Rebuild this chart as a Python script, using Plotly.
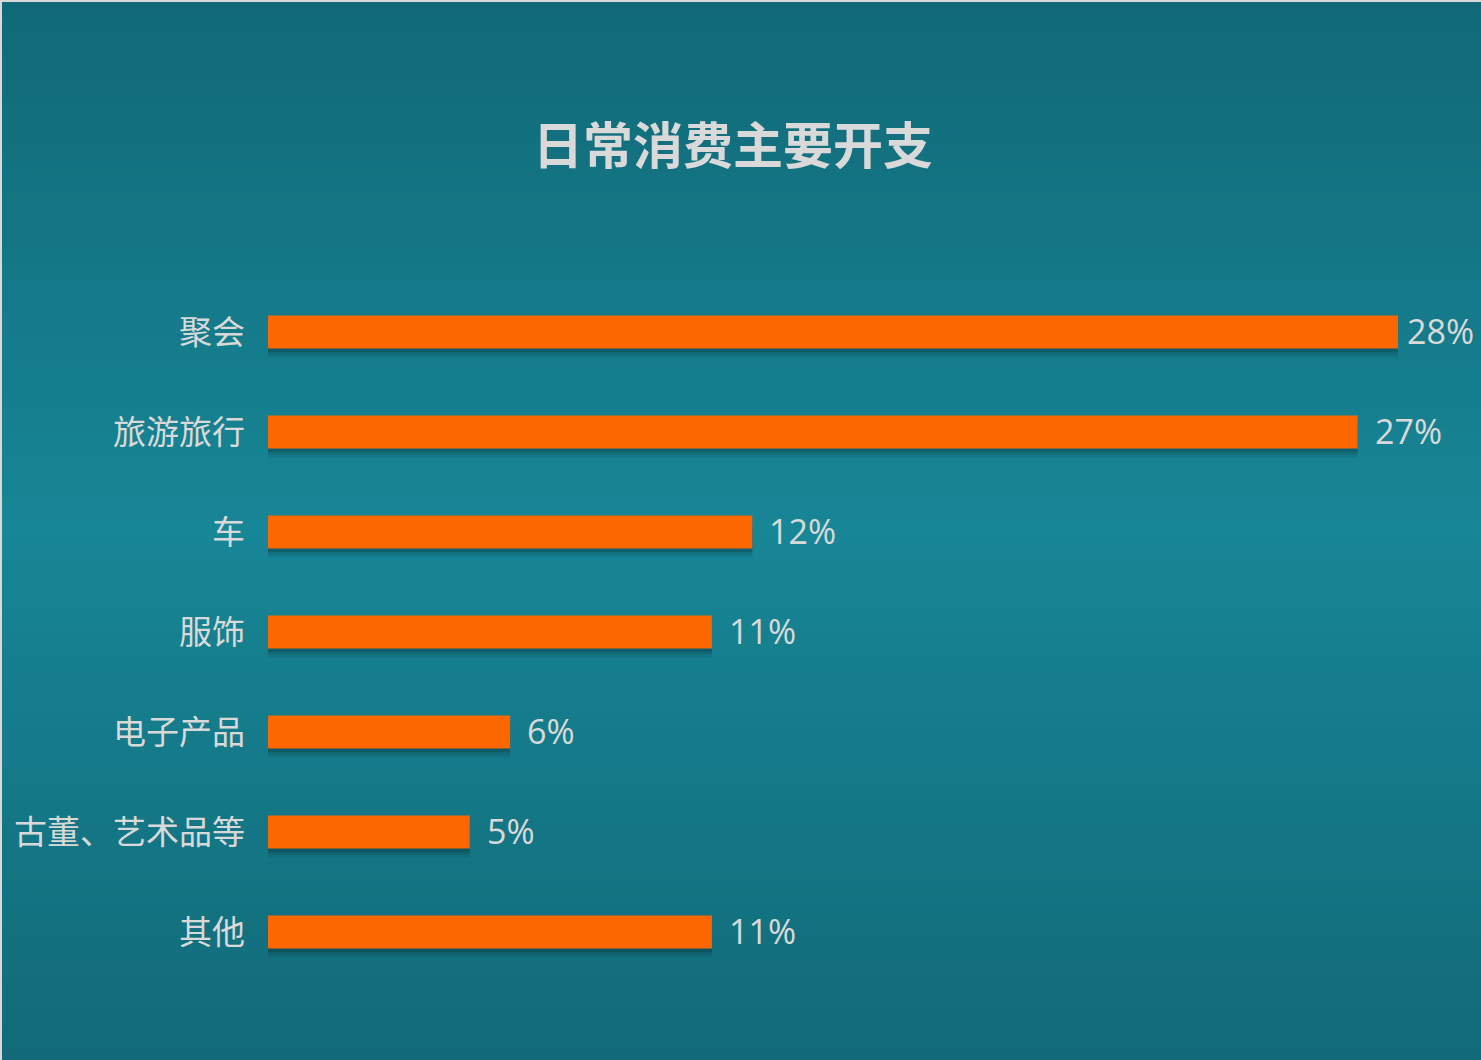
import plotly.graph_objects as go

categories = ["聚会", "旅游旅行", "车", "服饰", "电子产品", "古董、艺术品等", "其他"]
values = [28, 27, 12, 11, 6, 5, 11]
value_labels = ["28%", "27%", "12%", "11%", "6%", "5%", "11%"]
label_shifts = [7, 15, 15, 15, 15, 15, 15]

W, H = 1481, 1060
ML, MR, MT, MB = 268, 83, 282, 78
PH = H - MT - MB
PW = W - ML - MR

BAR_COLOR = "#FD6700"
TEXT_COLOR = "#D9D9D9"

fig = go.Figure()

# soft shadow layers under bars
for dy, op in [(0.09, 0.10), (0.06, 0.14), (0.035, 0.20)]:
    fig.add_trace(go.Bar(
        y=categories, x=values, orientation="h",
        width=0.33, offset=-0.165 + dy,
        marker=dict(color=f"rgba(10,40,50,{op})", line=dict(width=0)),
        hoverinfo="skip", showlegend=False,
    ))

fig.add_trace(go.Bar(
    y=categories, x=values, orientation="h",
    width=0.33, offset=-0.165,
    marker=dict(color=BAR_COLOR, line=dict(width=0)),
    showlegend=False,
))

annotations = []
for c, v, t, s in zip(categories, values, value_labels, label_shifts):
    annotations.append(dict(
        x=v, y=c, xref="x", yref="y", text=t, showarrow=False,
        xanchor="left", yanchor="middle", xshift=s, yshift=1,
        font=dict(family="Open Sans, Noto Sans", size=34, color=TEXT_COLOR),
    ))

annotations.append(dict(
    x=(733 - ML) / PW, y=(H - MB - 142) / PH, xref="paper", yref="paper",
    text="<b>日常消费主要开支</b>", showarrow=False,
    xanchor="center", yanchor="middle",
    font=dict(family="Noto Sans CJK SC", size=50, color=TEXT_COLOR),
))

# vertical gradient background via strips
def lerp(a, b, t):
    return tuple(int(round(a[i] + (b[i] - a[i]) * t)) for i in range(3))

top = (0x11, 0x69, 0x77)
mid = (0x17, 0x86, 0x96)
bot = (0x12, 0x6A, 0x78)
shapes = []
step = 10
for py in range(0, H, step):
    f = (py + step / 2) / H
    if f < 0.5:
        col = lerp(top, mid, f / 0.5)
    else:
        col = lerp(mid, bot, (f - 0.5) / 0.5)
    y0 = (H - MB - py) / PH
    y1 = (H - MB - (py + step + 1)) / PH
    shapes.append(dict(
        type="rect", xref="paper", yref="paper",
        x0=-ML / PW - 0.01, x1=1 + MR / PW + 0.01,
        y0=y1, y1=y0, fillcolor="rgb(%d,%d,%d)" % col,
        line=dict(width=0), layer="below",
    ))

# light border top and left
shapes.append(dict(type="line", xref="paper", yref="paper",
                   x0=-ML / PW, x1=1 + MR / PW, y0=(H - MB - 1) / PH, y1=(H - MB - 1) / PH,
                   line=dict(color="#D9D9D9", width=2), layer="above"))
shapes.append(dict(type="line", xref="paper", yref="paper",
                   x0=-(ML - 1) / PW, x1=-(ML - 1) / PW, y0=(H - MB) / PH, y1=-MB / PH,
                   line=dict(color="#D9D9D9", width=2), layer="above"))

fig.update_layout(
    width=W, height=H,
    margin=dict(l=ML, r=MR, t=MT, b=MB),
    paper_bgcolor="#157888",
    plot_bgcolor="rgba(0,0,0,0)",
    barmode="overlay",
    xaxis=dict(range=[0, 28], visible=False, fixedrange=True),
    yaxis=dict(
        autorange="reversed", showgrid=False, zeroline=False, showline=False,
        ticks="", ticklabelstandoff=22,
        tickfont=dict(family="Noto Sans CJK SC", size=33, color=TEXT_COLOR),
    ),
    shapes=shapes,
    annotations=annotations,
)

fig.write_html("out.html")
